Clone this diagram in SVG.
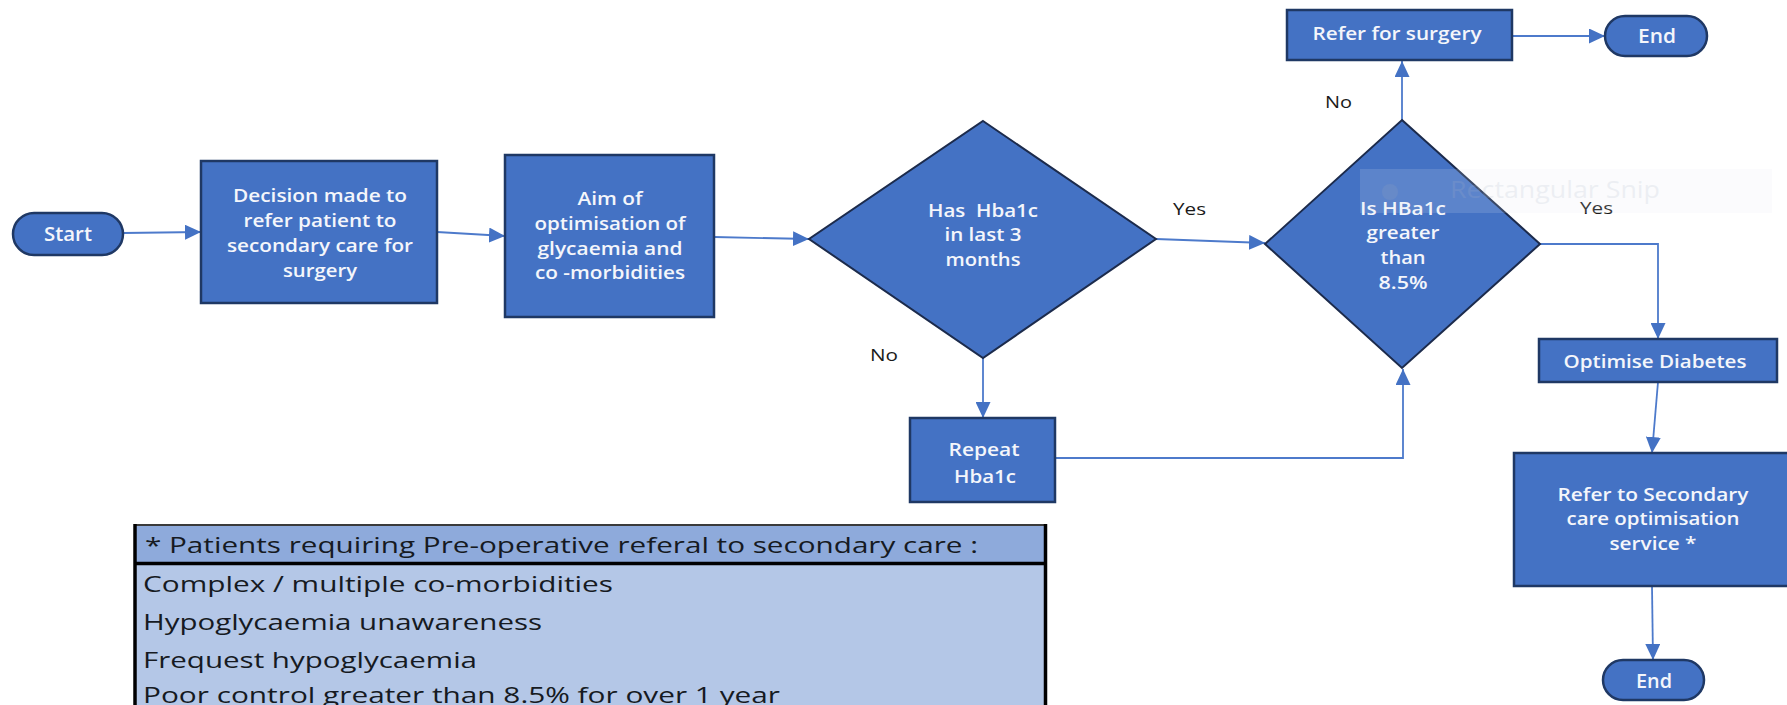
<svg xmlns="http://www.w3.org/2000/svg" width="1787" height="705" viewBox="0 0 1787 705">
  <style>
    .box { fill: #4472c4; stroke: #1f3864; stroke-width: 2.5; }
    .dia { fill: #4472c4; stroke: #1c2b4c; stroke-width: 2; stroke-linejoin: miter; }
    .pill { fill: #4472c4; stroke: #1f3864; stroke-width: 2.5; }
    .t { font-family: "Open Sans", "Noto Sans", sans-serif; font-size: 17.5px; font-weight: 600; fill: #f4f6fb; text-anchor: middle; }
    .lbl { font-family: "Open Sans", "Noto Sans", sans-serif; font-size: 16.5px; font-weight: 500; fill: #1a1a1a; }
    .conn { fill: none; stroke: #4d7acb; stroke-width: 1.8; marker-end: url(#arrow); }
    .tb { font-family: "Open Sans", "Noto Sans", sans-serif; font-size: 22px; fill: #161a22; }
  </style>
  <defs>
    <marker id="arrow" markerUnits="userSpaceOnUse" markerWidth="17" markerHeight="15" refX="16" refY="7.5" orient="auto">
      <path d="M0,0 L16,7.5 L0,15 z" fill="#4472c4"/>
    </marker>
  </defs>

  <rect width="1787" height="705" fill="#ffffff"/>

  <!-- connectors -->
  <g id="connectors">
    <path class="conn" d="M123,233 L201,232"/>
    <path class="conn" d="M437,232 L505,236"/>
    <path class="conn" d="M714,237 L809,239"/>
    <path class="conn" d="M1156,239 L1265,243"/>
    <path class="conn" d="M983,358 L983,418"/>
    <path class="conn" d="M1055,458 L1403,458 L1403,369"/>
    <path class="conn" d="M1402,120 L1402,61"/>
    <path class="conn" d="M1512,36 L1605,36"/>
    <path class="conn" d="M1540,244 L1658,244 L1658,339"/>
    <path class="conn" d="M1658,382 L1652,453"/>
    <path class="conn" d="M1652,586 L1653,660"/>
  </g>

  <!-- branch labels -->
  <g id="labels">
    <text class="lbl" x="1173" y="215" textLength="33" lengthAdjust="spacingAndGlyphs">Yes</text>
    <text class="lbl" x="870" y="361" textLength="28" lengthAdjust="spacingAndGlyphs">No</text>
    <text class="lbl" x="1325" y="108" textLength="27" lengthAdjust="spacingAndGlyphs">No</text>
    <text class="lbl" x="1580" y="214" textLength="33" lengthAdjust="spacingAndGlyphs">Yes</text>
  </g>

  <g id="start">
    <rect class="pill" x="13" y="213" width="110" height="42" rx="21"/>
    <text class="t" x="68" y="241" style="font-size:19px" textLength="48" lengthAdjust="spacingAndGlyphs">Start</text>
  </g>

  <g id="decision">
    <rect class="box" x="201" y="161" width="236" height="142"/>
    <text class="t" x="320" y="202" textLength="174" lengthAdjust="spacingAndGlyphs">Decision made to</text>
    <text class="t" x="320" y="227" textLength="153" lengthAdjust="spacingAndGlyphs">refer patient to</text>
    <text class="t" x="320" y="252" textLength="186" lengthAdjust="spacingAndGlyphs">secondary care for</text>
    <text class="t" x="320" y="277" textLength="74" lengthAdjust="spacingAndGlyphs">surgery</text>
  </g>

  <g id="aim">
    <rect class="box" x="505" y="155" width="209" height="162"/>
    <text class="t" x="610" y="205" textLength="65" lengthAdjust="spacingAndGlyphs">Aim of</text>
    <text class="t" x="610" y="230" textLength="151" lengthAdjust="spacingAndGlyphs">optimisation of</text>
    <text class="t" x="610" y="255" textLength="145" lengthAdjust="spacingAndGlyphs">glycaemia and</text>
    <text class="t" x="610" y="279" textLength="150" lengthAdjust="spacingAndGlyphs">co -morbidities</text>
  </g>

  <g id="has-hba1c">
    <polygon class="dia" points="983,121 1156,239 983,358 809,239"/>
    <text class="t" x="983" y="217" textLength="110" lengthAdjust="spacingAndGlyphs" xml:space="preserve">Has  Hba1c</text>
    <text class="t" x="983" y="241" textLength="77" lengthAdjust="spacingAndGlyphs">in last 3</text>
    <text class="t" x="983" y="266" textLength="75" lengthAdjust="spacingAndGlyphs">months</text>
  </g>

  <g id="repeat">
    <rect class="box" x="910" y="418" width="145" height="84"/>
    <text class="t" x="984" y="456" textLength="71" lengthAdjust="spacingAndGlyphs">Repeat</text>
    <text class="t" x="985" y="483" textLength="62" lengthAdjust="spacingAndGlyphs">Hba1c</text>
  </g>

  <g id="greater">
    <polygon class="dia" points="1402,120 1540,244 1402,368 1265,244"/>
    <text class="t" x="1403" y="215" textLength="86" lengthAdjust="spacingAndGlyphs">Is HBa1c</text>
    <text class="t" x="1403" y="239" textLength="73" lengthAdjust="spacingAndGlyphs">greater</text>
    <text class="t" x="1403" y="264" textLength="45" lengthAdjust="spacingAndGlyphs">than</text>
    <text class="t" x="1403" y="289" textLength="49" lengthAdjust="spacingAndGlyphs">8.5%</text>
  </g>

  <g id="refer-surgery">
    <rect class="box" x="1287" y="10" width="225" height="50"/>
    <text class="t" x="1397" y="40" style="font-size:18.5px" textLength="169" lengthAdjust="spacingAndGlyphs">Refer for surgery</text>
  </g>

  <g id="end-top">
    <rect class="pill" x="1605" y="16" width="102" height="40" rx="20"/>
    <text class="t" x="1657" y="43" style="font-size:19px" textLength="38" lengthAdjust="spacingAndGlyphs">End</text>
  </g>

  <g id="optimise">
    <rect class="box" x="1539" y="339" width="238" height="43"/>
    <text class="t" x="1655" y="368" style="font-size:18.5px" textLength="183" lengthAdjust="spacingAndGlyphs">Optimise Diabetes</text>
  </g>

  <g id="refer-secondary">
    <rect class="box" x="1514" y="453" width="282" height="133"/>
    <text class="t" x="1653" y="501" textLength="191" lengthAdjust="spacingAndGlyphs">Refer to Secondary</text>
    <text class="t" x="1653" y="525" textLength="173" lengthAdjust="spacingAndGlyphs">care optimisation</text>
    <text class="t" x="1653" y="550" textLength="87" lengthAdjust="spacingAndGlyphs">service *</text>
  </g>

  <g id="end-bottom">
    <rect class="pill" x="1603" y="660" width="101" height="40" rx="20"/>
    <text class="t" x="1654" y="688" style="font-size:19px" textLength="36" lengthAdjust="spacingAndGlyphs">End</text>
  </g>

  <!-- faint screen-capture tooltip -->
  <g id="snip-tip" opacity="0.3">
    <rect x="1360" y="169" width="412" height="44" fill="#e6ebf3" opacity="0.5"/>
    <circle cx="1390" cy="192" r="8" fill="#b9c2d2"/>
    <text x="1450" y="198" font-family="'Open Sans', 'Noto Sans', sans-serif" font-size="23" fill="#c3cad8" textLength="210" lengthAdjust="spacingAndGlyphs">Rectangular Snip</text>
  </g>

  <!-- criteria table -->
  <g id="criteria">
    <rect x="134" y="524" width="912" height="190" fill="#b4c7e7"/>
    <rect x="134" y="524" width="912" height="39" fill="#8eaadb"/>
    <line x1="134" y1="525" x2="1046" y2="525" stroke="#3a3a3a" stroke-width="2"/>
    <line x1="134" y1="563.5" x2="1046" y2="563.5" stroke="#000" stroke-width="3.5"/>
    <line x1="135" y1="524" x2="135" y2="705" stroke="#000" stroke-width="3.5"/>
    <line x1="1045.5" y1="524" x2="1045.5" y2="705" stroke="#000" stroke-width="3.5"/>
    <text class="tb" x="145" y="553" textLength="833" lengthAdjust="spacingAndGlyphs">* Patients requiring Pre-operative referal to secondary care :</text>
    <text class="tb" x="143" y="592" textLength="470" lengthAdjust="spacingAndGlyphs">Complex / multiple co-morbidities</text>
    <text class="tb" x="143" y="630" textLength="399" lengthAdjust="spacingAndGlyphs">Hypoglycaemia unawareness</text>
    <text class="tb" x="143" y="668" textLength="334" lengthAdjust="spacingAndGlyphs">Frequest hypoglycaemia</text>
    <text class="tb" x="143" y="703" textLength="637" lengthAdjust="spacingAndGlyphs">Poor control greater than 8.5% for over 1 year</text>
  </g>
</svg>
